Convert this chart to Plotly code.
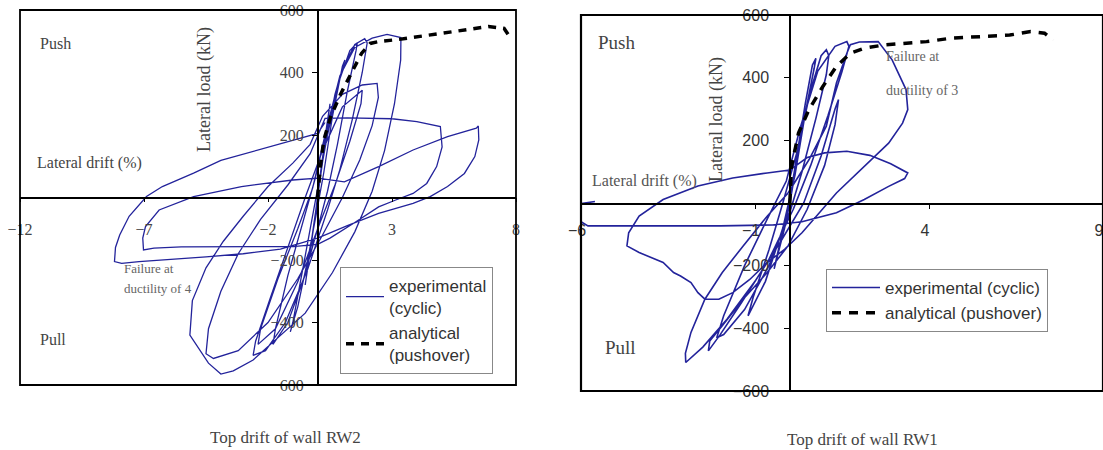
import plotly.graph_objects as go

# ---------------- data: wall RW2 (left panel) ----------------
rw2_exp_x = [0, 0.15, 0.35, 0.5, 0.42, 0.15, 0, -0.15, -0.35, -0.5, -0.42, -0.15, 0,
             0.3, 0.7, 1.1, 1.0, 0.6, 0.25, 0, -0.4, -0.8, -1.1, -1.0, -0.6, -0.2, 0,
             0.4, 0.9, 1.3, 1.6, 1.55, 1.2, 0.8, 0.4, 0, -0.6, -1.2, -1.8, -1.7, -1.2, -0.6, -0.1,
             0.4, 1.0, 1.5, 1.9, 2.0, 1.8, 1.4, 0.9, 0.4, -0.4, -1.3, -2.1, -2.6, -2.5, -1.9, -1.2, -0.5,
             0.2, 1.0, 1.8, 1.75, 1.3, 0.7, 0.1, -0.8, -1.7, -2.4, -2.3, -1.6, -0.8, -0.2,
             0.3, 0.9, 1.5, 2.2, 2.8, 3.36, 3.35, 3.1, 2.7, 2.2, 1.5, 0.6, -0.5, -1.6, -2.6, -3.4, -3.9,
             -4.4, -4.9, -5.15, -5.05, -4.5, -3.8, -3.0, -2.0, -1.0, -0.3,
             0.2, 1.0, 1.8, 2.4, 2.45, 2.2, 1.7, 1.0, 0.2, -0.8, -2.0, -3.2, -4.2, -4.5, -4.4, -3.9,
             -3.2, -2.3, -1.2, -0.3, 0.3, 1.2, 2.2, 3.0, 4.0, 4.95, 5.02, 4.8, 4.4, 3.85, 3.15, 2.46,
             1.5, 0.5, 0, -1.0, -2.5, -4.0, -5.5, -6.6, -7.02, -7.05, -6.94, -6.39, -5.0, -3.07, -1.0, 0,
             1.08, 2.46, 3.85, 5.24, 6.4, 6.48, 6.5, 6.34, 5.92, 5.24, 4.54, 3.85, 2.46, 1.2, 0,
             -1.5, -3.0, -4.5, -6.0, -7.2, -7.9, -8.19, -8.15, -7.98, -7.6, -6.9, -6.26, -5.0, -3.9,
             -1.97, -0.5, 0, 0.3]
rw2_exp_y = [0, 100, 220, 300, 250, 100, 0, -90, -200, -280, -230, -90, 0,
             170, 330, 440, 420, 260, 80, -30, -200, -350, -430, -400, -230, -60, 20,
             200, 380, 470, 495, 470, 340, 170, 20, -100, -270, -400, -470, -420, -250, -80, 60,
             230, 410, 490, 508, 495, 400, 250, 90, -40, -230, -400, -490, -505, -460, -320, -160, 0,
             150, 290, 343, 300, 180, 40, -80, -270, -420, -470, -420, -260, -100, 30,
             200, 390, 480, 510, 522, 512, 440, 300, 150, 20, -110, -240, -370, -450, -520, -555, -565,
             -530, -470, -440, -330, -225, -140, -60, 35, 110, 170,
             260, 330, 360, 365, 320, 230, 120, 0, -120, -260, -400, -490, -515, -500, -420, -300,
             -180, -70, 40, 140, 253, 255, 253, 252, 243, 227, 162, 99, 45, 13, -8, -30,
             -80, -130, -150, -157, -157, -157, -158, -162, -168, -130, -93, -40, 3, 35, 56, 62,
             50, 99, 152, 195, 222, 229, 184, 131, 77, 35, 3, -19, -51, -90, -130,
             -165, -180, -190, -198, -205, -211, -205, -160, -120, -60, 3, 35, 78, 119,
             162, 195, 205, 240]
rw2_ana_x = [0, 0.11, 0.25, 0.53, 0.94, 1.36, 1.77, 2.12, 2.46, 3.29, 4.12, 4.95, 6.06, 6.89, 7.52, 7.7]
rw2_ana_y = [0, 99, 184, 259, 333, 397, 461, 493, 499, 506, 515, 525, 536, 547, 541, 520]

# ---------------- data: wall RW1 (right panel) ----------------
rw1_exp_x = [0, 0.1, 0.25, 0.35, 0.3, 0.1, 0, -0.15, -0.35, -0.45, -0.35, -0.1, 0,
             0.2, 0.45, 0.65, 0.75, 0.7, 0.45, 0.15, -0.2, -0.7, -1.1, -1.2, -1.05, -0.6, -0.2,
             0.2, 0.6, 0.9, 1.05, 1.12, 1.05, 0.75, 0.35, 0, -0.6, -1.3, -1.9, -2.1, -1.9, -1.3, -0.6, -0.1,
             0.3, 0.8, 1.3, 1.64, 1.7, 1.5, 1.1, 0.6, 0.1, -0.6, -1.4, -2.0, -2.34, -2.3, -1.94, -1.34,
             -0.65, -0.05, 0.5, 1.0, 1.3, 1.4, 1.3, 0.9, 0.4, -0.3, -1.0, -1.8, -2.5, -2.99, -3.0,
             -2.84, -2.44, -1.94, -1.34, -0.65, -0.05, 0.55, 1.05, 1.34, 1.64, 1.74,
             2.0, 2.54, 2.94, 3.34, 3.39, 3.24, 2.84, 2.34, 1.84, 1.34, 0.85, 0.35, -0.15, -0.65,
             -1.15, -1.64, -2.04, -2.44, -2.64, -2.84, -3.14, -3.34, -3.64, -4.33, -4.68, -4.63,
             -4.33, -3.64, -2.64, -1.64, -0.65, 0,
             0.5, 1.0, 1.64, 2.3, 2.9, 3.39, 3.3, 2.84, 2.14, 1.34, 0.35, -0.5, -2.0, -4.0, -5.8,
             -6.0, -6.3, -6.3, -6.0, -5.6]
rw1_exp_y = [0, 80, 180, 230, 190, 60, 0, -80, -170, -210, -160, -40, 0,
             150, 320, 440, 462, 430, 290, 90, -80, -250, -340, -360, -300, -150, 0,
             160, 360, 470, 489, 470, 410, 270, 100, -30, -200, -340, -420, -430, -360, -200, -40, 70,
             240, 420, 500, 515, 500, 420, 280, 120, -20, -180, -320, -420, -472, -440, -392, -307,
             -222, -137, -20, 120, 250, 330, 300, 150, 0, -130, -250, -370, -460, -509, -480,
             -413, -307, -222, -137, -42, 32, 138, 245, 383, 478, 505,
             514, 515, 457, 362, 298, 255, 191, 138, 85, 32, -31, -95, -148, -190,
             -244, -286, -307, -307, -286, -254, -233, -222, -190, -158, -137, -95,
             -42, 11, 54, 80, 96, 105,
             145, 160, 165, 152, 125, 96, 78, 53, 11, -31, -60, -70, -73, -73, -73,
             -60, -40, -5, -2, 5]
rw1_ana_x = [0, 0.05, 0.25, 0.55, 0.95, 1.34, 1.74, 2.14, 2.74, 3.34, 3.93, 4.63, 5.33, 6.32, 6.92, 7.32, 7.57]
rw1_ana_y = [0, 117, 223, 298, 372, 436, 478, 494, 505, 510, 515, 526, 531, 536, 547, 542, 520]

x_ticks_rw2 = [-12, -7, -2, 3, 8]
x_ticks_rw1 = [-6, -1, 4, 9]
y_ticks = [600, 400, 200, -200, -400, -600]

W, H = 1103, 450
def px(p):
    return p / W
def py(p):
    return 1 - p / H

BLUE = '#23239b'
serif = 'Liberation Serif, Times New Roman, serif'
sans = 'Liberation Sans, Arial, sans-serif'

fig = go.Figure()
fig.add_trace(go.Scatter(x=rw2_exp_x, y=rw2_exp_y, mode='lines', xaxis='x', yaxis='y',
                         line=dict(color=BLUE, width=1.3), name='experimental<br>(cyclic)',
                         legend='legend'))
fig.add_trace(go.Scatter(x=rw2_ana_x, y=rw2_ana_y, mode='lines', xaxis='x', yaxis='y',
                         line=dict(color='black', width=3.5, dash='8px,7px'),
                         name='analytical<br>(pushover)', legend='legend'))
fig.add_trace(go.Scatter(x=rw1_exp_x, y=rw1_exp_y, mode='lines', xaxis='x2', yaxis='y2',
                         line=dict(color=BLUE, width=1.6), name='experimental (cyclic)',
                         legend='legend2'))
fig.add_trace(go.Scatter(x=rw1_ana_x, y=rw1_ana_y, mode='lines', xaxis='x2', yaxis='y2',
                         line=dict(color='black', width=3.5, dash='9px,8px'),
                         name='analytical (pushover)', legend='legend2'))

common = dict(showgrid=False, zeroline=False, showline=True, linecolor='black',
              ticks='outside', tickcolor='black', automargin=False,
              ticklabeloverflow='allow')

fig.update_layout(
    width=W, height=H, margin=dict(l=0, r=0, t=0, b=0, pad=0, autoexpand=False),
    paper_bgcolor='white', plot_bgcolor='white',
    xaxis=dict(domain=[px(20), px(516)], range=[-12, 8], anchor='free', position=py(197.5),
               tickvals=x_ticks_rw2, ticklen=4, linewidth=1.8, ticklabelstandoff=13,
               tickfont=dict(family=serif, size=16, color='#444'), **common),
    yaxis=dict(domain=[py(385), py(10)], range=[-600, 600], anchor='free', position=px(317.6),
               tickvals=y_ticks, ticklen=5, linewidth=1.5, ticklabelstandoff=5,
               tickfont=dict(family=serif, size=16, color='#444'), **common),
    xaxis2=dict(domain=[px(581), 1.0], range=[-6, 9], anchor='free', position=py(203.5),
                tickvals=x_ticks_rw1, ticklen=5, linewidth=1.8, ticklabelstandoff=7,
                ticklabelshift=-4,
                tickfont=dict(family=sans, size=16, color='#333'), **common),
    yaxis2=dict(domain=[py(391), py(15)], range=[-600, 600], anchor='free', position=px(790),
                tickvals=y_ticks, ticklen=5, linewidth=1.5, ticklabelstandoff=12,
                tickfont=dict(family=sans, size=16, color='#333'), **common),
    legend=dict(x=px(340), y=py(267), xanchor='left', yanchor='top', bgcolor='white',
                bordercolor='#888', borderwidth=1, itemwidth=38,
                font=dict(family=sans, size=17, color='#333')),
    legend2=dict(x=px(826), y=py(269), xanchor='left', yanchor='top', bgcolor='white',
                 bordercolor='#888', borderwidth=1, itemwidth=48,
                 font=dict(family=sans, size=17, color='#333')),
    showlegend=True,
)

fig.add_shape(type='rect', xref='x domain', yref='y domain', x0=0, x1=1, y0=0, y1=1,
              line=dict(color='black', width=1.8))
fig.add_shape(type='rect', xref='x2 domain', yref='y2 domain', x0=0, x1=1, y0=0, y1=1,
              line=dict(color='black', width=2.2))

def note(text, x, y, size, anchor='left', angle=0, family=serif, color='#444'):
    fig.add_annotation(text=text, xref='paper', yref='paper', x=px(x), y=py(y),
                       xanchor=anchor, yanchor='middle', showarrow=False, textangle=angle,
                       font=dict(family=family, size=size, color=color))

note('Push', 38, 44, 16)
note('Lateral drift (%)', 35, 163, 16)
note('Pull', 38, 339, 16)
note('Failure at', 122, 268, 13, color='#666')
note('ductility of 4', 122, 288, 13, color='#666')
note('Lateral load (kN)', 205, 90, 18, anchor='center', angle=-90)
note('Top drift of wall RW2', 285, 437, 17, anchor='center')

note('Push', 596, 42, 19)
note('Lateral drift (%)', 590, 181, 16, color='#555')
note('Pull', 603, 347, 19)
note('Failure at', 884, 56, 14, color='#666')
note('ductility of 3', 884, 91, 14, color='#666')
note('Lateral load (kN)', 717, 120, 18, anchor='center', angle=-90)
note('Top drift of wall RW1', 862, 439, 17, anchor='center')

# place the figure flush with the window's top-left corner
fig.write_html('out.html', config={'displayModeBar': False},
               post_script="document.body.style.margin='0';document.body.style.overflow='hidden';")
